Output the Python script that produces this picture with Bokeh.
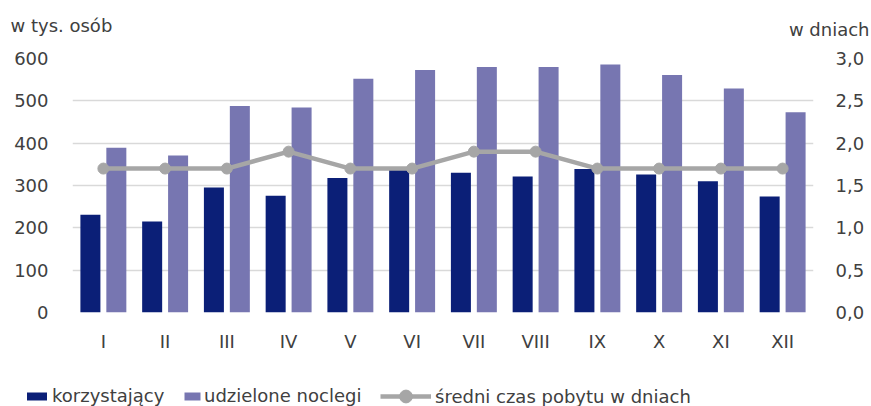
from bokeh.plotting import figure
from bokeh.models import (FactorRange, Range1d, LinearAxis, FixedTicker, CustomJSTickFormatter,
                          ColumnDataSource, Legend, LegendItem, Label)
from bokeh.transform import dodge
from bokeh.embed import file_html
from bokeh.resources import INLINE

months = ["I", "II", "III", "IV", "V", "VI", "VII", "VIII", "IX", "X", "XI", "XII"]
korzystajacy = [231, 215, 295, 276, 318, 337, 330, 321, 339, 326, 310, 274]
noclegi = [389, 371, 488, 484, 552, 573, 580, 580, 586, 561, 529, 473]
sredni = [1.7, 1.7, 1.7, 1.9, 1.7, 1.7, 1.9, 1.9, 1.7, 1.7, 1.7, 1.7]
left_ticks = [0, 100, 200, 300, 400, 500, 600]
right_ticks = [0.0, 0.5, 1.0, 1.5, 2.0, 2.5, 3.0]
left_title = "w tys. osób"
right_title = "w dniach"
series_names = ["korzystający", "udzielone noclegi", "średni czas pobytu w dniach"]

DARK = "#0b1f77"
LIGHT = "#7776b1"
GRAY = "#a6a6a6"
TXT = "#404040"
FONT = "DejaVu Sans"
FS = "18px"
W = 871

src = ColumnDataSource(dict(month=months, k=korzystajacy, n=noclegi, s=sredni))


def blank(height):
    f = figure(width=W, height=height, x_range=FactorRange(factors=months),
               y_range=Range1d(0, 600),
               output_backend="svg", toolbar_location=None,
               x_axis_location=None, y_axis_location=None,
               min_border=0, min_border_left=0, min_border_right=0,
               min_border_top=0, min_border_bottom=0)
    f.grid.visible = False
    f.outline_line_color = None
    return f


# ---- top strip with axis titles
top = blank(46)
top.add_layout(Label(x=10, y=21, x_units="screen", y_units="screen", text=left_title,
                     text_baseline="alphabetic", text_align="left", text_font=FONT,
                     text_font_size=FS, text_color=TXT))
top.add_layout(Label(x=869, y=17, x_units="screen", y_units="screen", text=right_title,
                     text_baseline="alphabetic", text_align="right", text_font=FONT,
                     text_font_size=FS, text_color=TXT))

# ---- main chart
x_range = FactorRange(factors=months)
p = figure(width=W, height=314, x_range=x_range,
           y_range=Range1d(0, 600), output_backend="svg", toolbar_location=None,
           min_border_left=72, min_border_right=58, min_border_top=12, min_border_bottom=48)
p.outline_line_color = None
p.extra_y_ranges = {"d": Range1d(0, 3)}

p.vbar(x=dodge("month", -0.21, range=x_range), top="k", width=0.324, source=src,
       fill_color=DARK, line_color=None)
p.vbar(x=dodge("month", 0.21, range=x_range), top="n", width=0.324, source=src,
       fill_color=LIGHT, line_color=None)
p.line(x="month", y="s", source=src, y_range_name="d", line_color=GRAY, line_width=4.5)
p.scatter(x="month", y="s", source=src, y_range_name="d", size=11,
          fill_color=GRAY, line_color=GRAY)

p.yaxis.ticker = FixedTicker(ticks=left_ticks)
rax = LinearAxis(y_range_name="d", ticker=FixedTicker(ticks=right_ticks),
                 formatter=CustomJSTickFormatter(code="return tick.toFixed(1).replace('.', ',');"))
p.add_layout(rax, "right")
for ax in [p.yaxis[0], p.xaxis[0], rax]:
    ax.axis_line_color = None
    ax.major_tick_line_color = None
    ax.minor_tick_line_color = None
    ax.major_label_text_font = FONT
    ax.major_label_text_font_size = FS
    ax.major_label_text_color = TXT
p.yaxis[0].major_label_standoff = 18
p.xaxis[0].major_label_standoff = 12
rax.major_label_standoff = 16

p.xgrid.grid_line_color = None
p.ygrid.grid_line_color = "#d9d9d9"
p.ygrid.grid_line_width = 1.5

# ---- legend strip (hidden copies of the series renderers feed the legend glyphs)
leg = blank(46)
lx = leg.x_range
lk = leg.vbar(x=dodge("month", -0.21, range=lx), top="k", width=0.324, source=src,
              fill_color=DARK, line_color=None, visible=False)
ln = leg.vbar(x=dodge("month", 0.21, range=lx), top="n", width=0.324, source=src,
              fill_color=LIGHT, line_color=None, visible=False)
ll = leg.line(x="month", y="k", source=src, line_color=GRAY, line_width=4.5, visible=False)
ls = leg.scatter(x="month", y="k", source=src, size=11, fill_color=GRAY, line_color=GRAY,
                 visible=False)


def add_legend(label, renderers, x, y, gw, gh, standoff):
    lg = Legend(items=[LegendItem(label=label, renderers=renderers)],
                location=(x, y), orientation="horizontal",
                glyph_width=gw, glyph_height=gh, label_height=gh, label_standoff=standoff,
                padding=0, margin=0, spacing=0, border_line_color=None,
                background_fill_alpha=0, inactive_fill_alpha=0,
                label_text_font=FONT, label_text_font_size=FS, label_text_color=TXT)
    leg.add_layout(lg)


add_legend(series_names[0], [lk], 24, 0, 25, 10, 3)
add_legend(series_names[1], [ln], 182, 0, 20, 10, 2)
add_legend(series_names[2], [ll, ls], 380, -6, 51, 32, 4)

open("out.html", "w").write(file_html([top, p, leg], INLINE))
